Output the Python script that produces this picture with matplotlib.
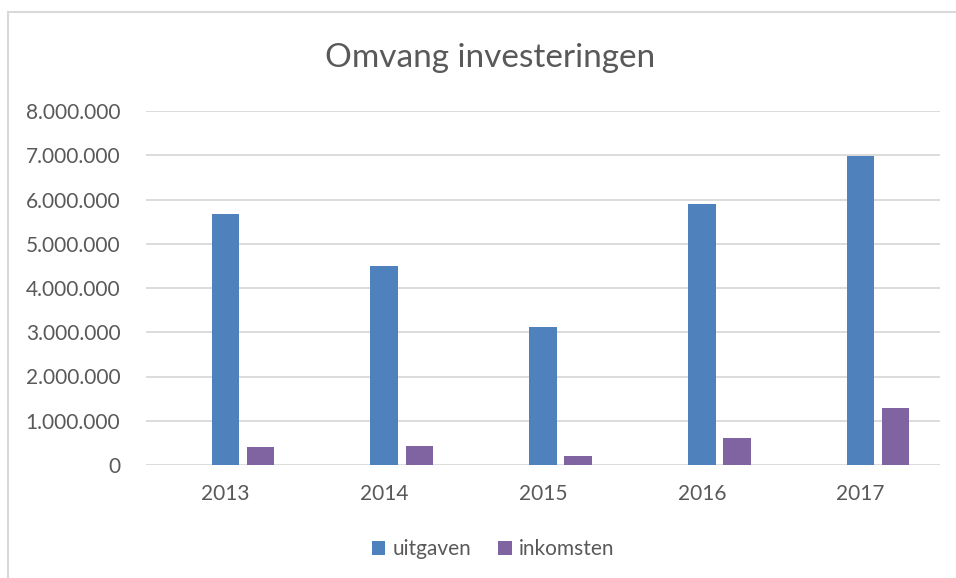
import matplotlib
matplotlib.use("Agg")
import matplotlib.pyplot as plt
import numpy as np
from matplotlib.patches import Rectangle
from matplotlib.ticker import FuncFormatter

years = ["2013", "2014", "2015", "2016", "2017"]
uitgaven = [5670000, 4500000, 3120000, 5900000, 6980000]
inkomsten = [410000, 430000, 200000, 600000, 1280000]
y_ticks = [0, 1000000, 2000000, 3000000, 4000000, 5000000, 6000000, 7000000, 8000000]

plt.rcParams['font.family'] = ['Lato', 'DejaVu Sans']
text_col = '#595959'
grid_col = '#d9d9d9'

fig = plt.figure(figsize=(9.56, 5.78), dpi=100)
W, H = 956, 578
fig.patches.append(Rectangle((8 / W, -0.1), 1.2, 1.1 - 12 / H, transform=fig.transFigure,
                             fill=False, edgecolor=grid_col, linewidth=1.5))

ax = fig.add_axes([146 / W, 113 / H, (940 - 146) / W, (465 - 111) / H])
x = np.arange(len(years))
w = 0.173
off = 0.221
ax.bar(x, uitgaven, w, color='#4f81bd', label='uitgaven', zorder=3)
ax.bar(x + off, inkomsten, w, color='#8064a2', label='inkomsten', zorder=3)

ax.set_xlim(-0.5, len(years) - 0.5)
ax.set_ylim(0, 8000000)
ax.set_yticks(y_ticks)
ax.yaxis.set_major_formatter(FuncFormatter(lambda v, p: f"{int(v):,}".replace(",", ".")))
ax.set_xticks(x)
ax.set_xticklabels(years)
ax.grid(axis='y', color=grid_col, linewidth=1.3, zorder=0)
for s in ax.spines.values():
    s.set_visible(False)
ax.tick_params(axis='both', length=0, colors=text_col, labelsize=15)
ax.tick_params(axis='y', pad=18.5)
ax.tick_params(axis='x', pad=14)

fig.text(490 / W, 1 - 58 / H, "Omvang investeringen", ha='center', va='center',
         fontsize=24, color=text_col)

leg = ax.legend(loc='center', bbox_to_anchor=(493 / W, 1 - 549 / H),
                bbox_transform=fig.transFigure, ncol=2, frameon=False,
                fontsize=15, handlelength=0.65, handleheight=0.65,
                handletextpad=0.35, columnspacing=1.3)
for t in leg.get_texts():
    t.set_color(text_col)

fig.savefig("out.png", dpi=100)
